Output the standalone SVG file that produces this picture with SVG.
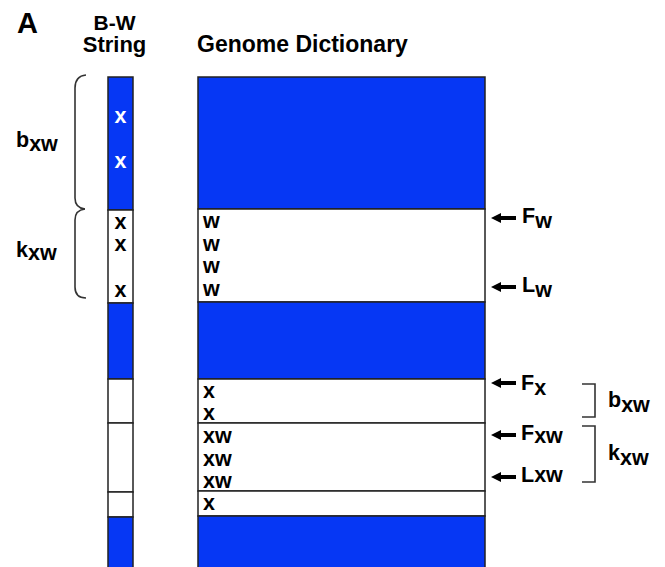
<svg xmlns="http://www.w3.org/2000/svg" width="665" height="567" viewBox="0 0 665 567">
  <defs>
    <marker id="head" markerUnits="userSpaceOnUse" markerWidth="11" markerHeight="11" refX="1" refY="5" orient="auto">
      <path d="M0,0 L10,5 L0,10 z" fill="#000"/>
    </marker>
    <style>
      text { font-family: "Liberation Sans", Arial, sans-serif; font-weight: bold; fill: #000; }
      .head { font-size: 22px; }
      .lbl { font-size: 21.5px; }
      .cell { font-size: 21.5px; }
      .inv { fill: #fff; }
      .blue { fill: #0637f4; stroke: #222; stroke-width: 1.5; }
      .white { fill: #fff; stroke: #222; stroke-width: 1.5; }
      .brace { fill: none; stroke: #333; stroke-width: 1.6; }
      .conn { stroke: #000; stroke-width: 4; marker-end: url(#head); }
    </style>
  </defs>

  <rect width="665" height="567" fill="#fff"/>

  <!-- headings -->
  <text x="17" y="33" style="font-size:29px">A</text>
  <text class="head" x="114.5" y="30" text-anchor="middle" style="font-size:21px">B-W</text>
  <text class="head" x="114.5" y="52" text-anchor="middle">String</text>
  <text class="head" x="197" y="52" style="font-size:23px">Genome Dictionary</text>

  <!-- B-W string column -->
  <g id="bw-string">
    <rect class="blue" x="108" y="77" width="25" height="133"/>
    <rect class="white" x="108" y="210" width="25" height="93"/>
    <rect class="blue" x="108" y="303" width="25" height="76"/>
    <rect class="white" x="108" y="379" width="25" height="44"/>
    <rect class="white" x="108" y="423" width="25" height="69"/>
    <rect class="white" x="108" y="492" width="25" height="25"/>
    <rect class="blue" x="108" y="517" width="25" height="60"/>
    <text class="cell inv" x="114.5" y="123">x</text>
    <text class="cell inv" x="114.5" y="168">x</text>
    <text class="cell" x="114.5" y="229">x</text>
    <text class="cell" x="114.5" y="251">x</text>
    <text class="cell" x="114.5" y="297">x</text>
  </g>

  <!-- genome dictionary column -->
  <g id="dictionary">
    <rect class="blue" x="198" y="77" width="287" height="132"/>
    <rect class="white" x="198" y="209" width="287" height="93"/>
    <rect class="blue" x="198" y="302" width="287" height="77"/>
    <rect class="white" x="198" y="379" width="287" height="44"/>
    <rect class="white" x="198" y="423" width="287" height="68"/>
    <rect class="white" x="198" y="491" width="287" height="25"/>
    <rect class="blue" x="198" y="516" width="287" height="61"/>
    <text class="cell" x="203" y="228">w</text>
    <text class="cell" x="203" y="251">w</text>
    <text class="cell" x="203" y="273">w</text>
    <text class="cell" x="203" y="296">w</text>
    <text class="cell" x="203" y="398">x</text>
    <text class="cell" x="203" y="420">x</text>
    <text class="cell" x="203" y="443">xw</text>
    <text class="cell" x="203" y="466">xw</text>
    <text class="cell" x="203" y="488">xw</text>
    <text class="cell" x="203" y="510">x</text>
  </g>

  <!-- left braces over the B-W string -->
  <g id="left-braces">
    <path class="brace" d="M86,75 Q75,76 75,88 L75,198 Q75,208 85,209"/>
    <path class="brace" d="M85,209 Q75,210 75,220 L75,287 Q75,298 86,298"/>
    <text class="lbl" x="16" y="147">b<tspan dy="4">xw</tspan></text>
    <text class="lbl" x="16" y="257">k<tspan dy="3">xw</tspan></text>
  </g>

  <!-- right brackets -->
  <g id="right-brackets">
    <path class="brace" d="M582,384 L595,384 L595,417 L582,417"/>
    <path class="brace" d="M582,426 L595,426 L595,482 L582,482"/>
    <text class="lbl" x="608" y="407">b<tspan dy="5">xw</tspan></text>
    <text class="lbl" x="608" y="460">k<tspan dy="5">xw</tspan></text>
  </g>

  <!-- pointer arrows -->
  <g id="connectors">
    <line class="conn" x1="516" y1="218" x2="500" y2="218"/>
    <line class="conn" x1="516" y1="287" x2="500" y2="287"/>
    <line class="conn" x1="516" y1="383" x2="500" y2="383"/>
    <line class="conn" x1="516" y1="435" x2="500" y2="435"/>
    <line class="conn" x1="516" y1="477" x2="500" y2="477"/>
  </g>

  <!-- pointer labels -->
  <g id="pointer-labels">
    <text class="lbl" x="522" y="223">F<tspan dy="5">w</tspan></text>
    <text class="lbl" x="522" y="292">L<tspan dy="5">w</tspan></text>
    <text class="lbl" x="521" y="390">F<tspan dy="5">x</tspan></text>
    <text class="lbl" x="521" y="440">F<tspan dy="3">xw</tspan></text>
    <text class="lbl" x="521" y="482">Lxw</text>
  </g>
</svg>
